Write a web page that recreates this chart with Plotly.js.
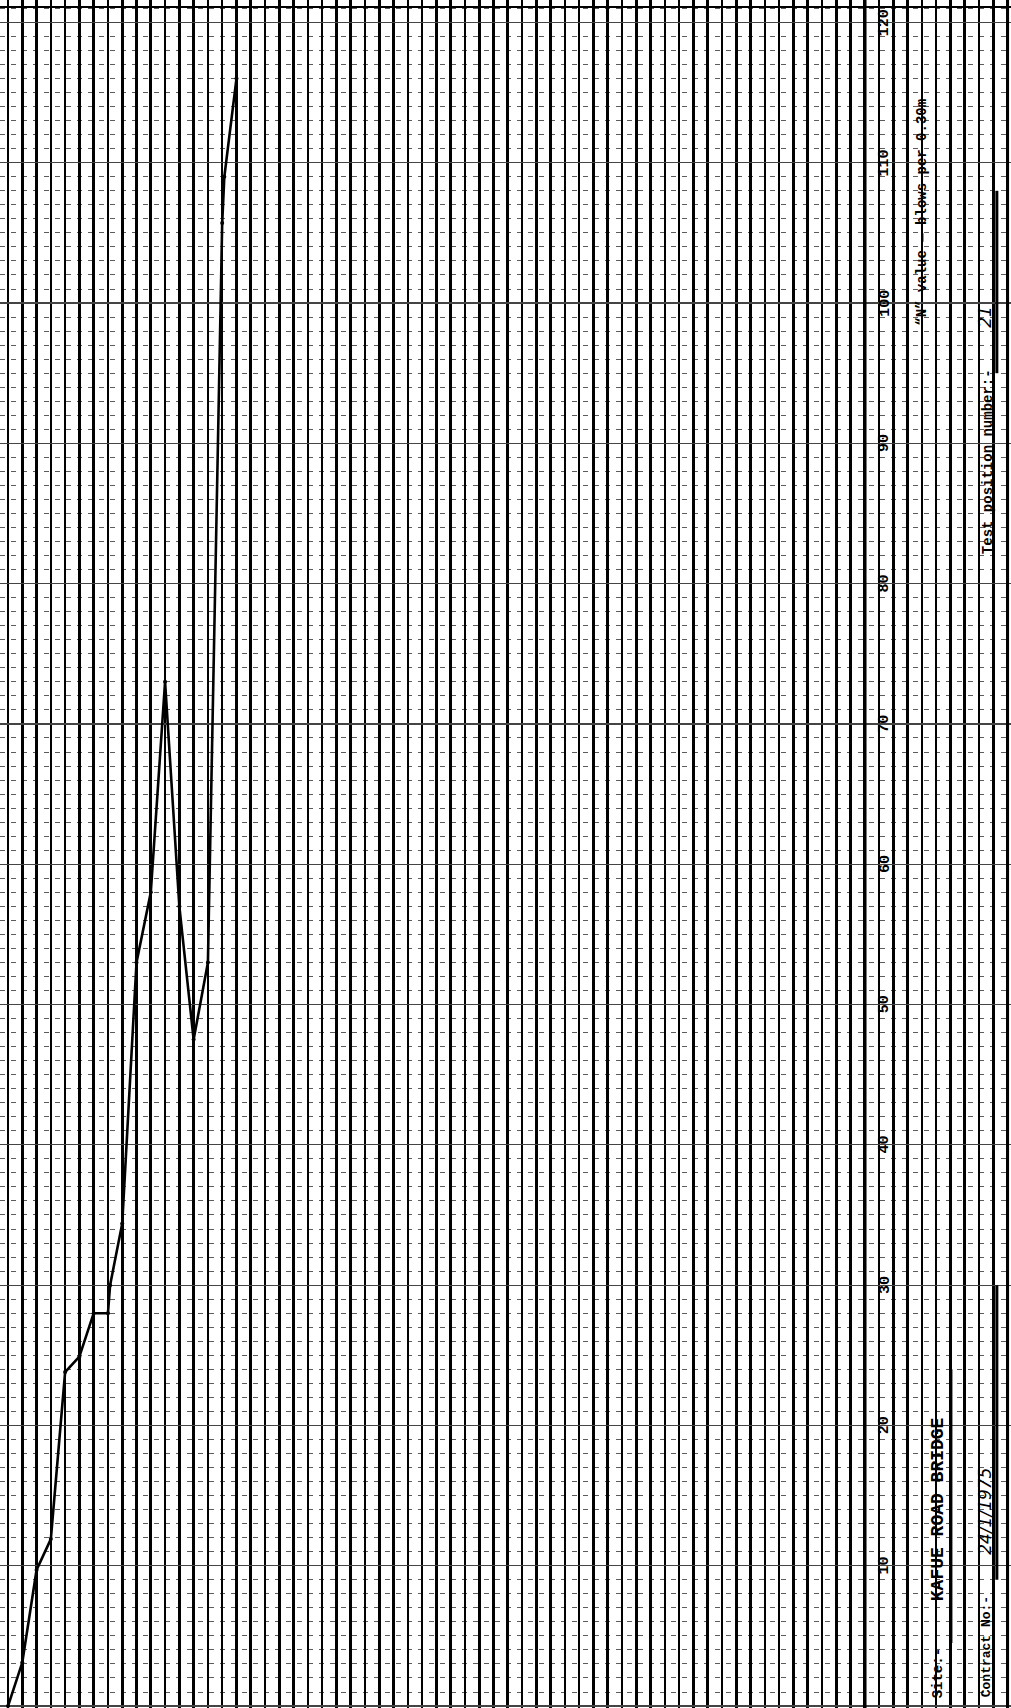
<!DOCTYPE html>
<html>
<head>
<meta charset="utf-8">
<script src="https://cdn.plot.ly/plotly-3.0.1.min.js"></script>
<style>html,body{margin:0;padding:0;background:#fff;}</style>
</head>
<body>
<div id="chart" style="width:1011px;height:1708px;"></div>
<script>
// ---- data ----
// position along the sheet (grid-line index) and "N" value (blows per 0.30 m)
const stepIndex = [0, 1, 2, 3, 4, 5, 6, 7, 7.15, 8, 9, 10, 11, 12, 13, 14, 15, 15.15, 16];
const nValue    = [0, 3.1, 9.7, 11.9, 23.8, 24.9, 28, 28, 30, 34.4, 53, 58, 73, 57, 47.5, 53, 105.7, 109, 116];
const tickValues = [10, 20, 30, 40, 50, 60, 70, 80, 90, 100, 110, 120];
const tickLabels = ["10", "20", "30", "40", "50", "60", "70", "80", "90", "100", "110", "120"];
const axisTitle = "\u201CN\u201D value \u2014 blows per 0.30m";
const testPositionLabel = "Test position number:-";
const testPositionValue = "21";
const siteLabel = "Site:-";
const siteName = "KAFUE ROAD BRIDGE";
const contractLabel = "Contract No:-";
const contractDate = "24/1/1975";

// ---- styling / layout ----
const mono = "Liberation Mono, Courier New, monospace";
const XR = [-0.56, 70.24];
const YR = [-0.14, 121.6];

function rot(text, x, y, size, extra) {
  return Object.assign({
    text: text, x: x, y: y, xref: "x", yref: "y",
    showarrow: false, textangle: -90,
    xanchor: "center", yanchor: "middle",
    font: {family: mono, size: size, color: "#000", weight: "bold"}
  }, extra || {});
}

const annotations = [];
tickValues.forEach((v, i) => annotations.push(rot(tickLabels[i], 61.4, v, 15)));
annotations.push(rot(axisTitle, 64.0, 106.5, 14));
annotations.push(rot(testPositionLabel, 68.6, 88.7, 14));
annotations.push(rot(testPositionValue, 68.4, 99, 17, {font: {family: "DejaVu Sans", size: 17, color: "#000", style: "italic"}}));
annotations.push(rot(siteLabel, 65.1, 2.3, 14));
annotations.push(rot(siteName, 65.1, 14, 18));
annotations.push(rot(contractLabel, 68.5, 4.2, 13));
annotations.push(rot(contractDate, 68.4, 13.9, 17, {font: {family: "DejaVu Sans", size: 17, color: "#000", style: "italic"}}));

function vline(x, y0, y1, w) {
  return {type: "line", xref: "x", yref: "y", x0: x, x1: x, y0: y0, y1: y1,
          line: {color: "#000", width: w}};
}
const shapes = [
  vline(60, YR[0], YR[1], 3.5),
  vline(70, YR[0], YR[1], 3),
  vline(69.25, 9, 30, 3),      // date fill line
  vline(69.25, 95, 108, 3),    // test position fill line
  vline(66.05, 4.5, 24, 2.5),  // site fill line
  {type: "line", xref: "x", yref: "y", x0: XR[0], x1: XR[1], y0: 121.1, y1: 121.1,
   line: {color: "#000", width: 2}}
];

const trace = {
  x: stepIndex, y: nValue, type: "scatter", mode: "lines+markers",
  line: {color: "#000", width: 2.6},
  marker: {color: "#000", size: 4},
  hoverinfo: "skip", showlegend: false
};

const layout = {
  width: 1011, height: 1708,
  margin: {l: 0, r: 0, t: 0, b: 0, pad: 0},
  paper_bgcolor: "#fff", plot_bgcolor: "#fff",
  showlegend: false,
  xaxis: {
    range: XR, tick0: 0, dtick: 1, showgrid: true, gridcolor: "#000", gridwidth: 2.6,
    showticklabels: false, ticks: "", zeroline: false, showline: false, fixedrange: true
  },
  yaxis: {
    range: YR, tick0: 0, dtick: 10, showgrid: true, gridcolor: "#444", gridwidth: 1.2,
    minor: {dtick: 1, showgrid: true, gridcolor: "#333", gridwidth: 0.8, griddash: "5px,6px"},
    showticklabels: false, ticks: "", zeroline: false, showline: false, fixedrange: true
  },
  annotations: annotations,
  shapes: shapes
};

Plotly.newPlot("chart", [trace], layout, {displayModeBar: false, staticPlot: true});
</script>
</body>
</html>
